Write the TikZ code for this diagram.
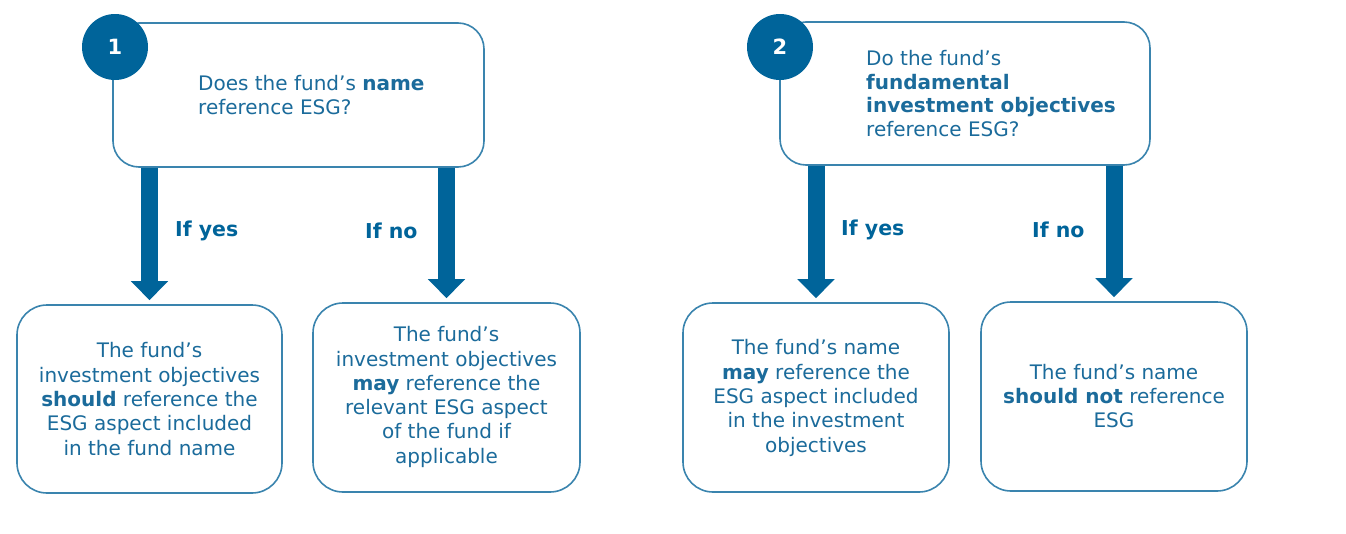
\documentclass[tikz,border=0pt]{standalone}
\usepackage{fontspec}
\setmainfont{DejaVu Sans}
\usetikzlibrary{arrows.meta}
\definecolor{esgdark}{HTML}{00649A}
\definecolor{esgtext}{HTML}{1B6B9B}
\definecolor{esgline}{HTML}{3A84AE}
\tikzset{
  qbox/.style={draw=esgline, line width=1.6pt, rounded corners=26pt, fill=white},
  abox/.style={draw=esgline, line width=1.6pt, rounded corners=30pt, fill=white},
  numcirc/.style={circle, fill=esgdark, minimum size=66pt, inner sep=0pt, text=white, font=\fontsize{21}{24}\selectfont\bfseries},
  qtext/.style={text=esgtext, align=left, font=\fontsize{20}{23.7}\selectfont, inner sep=0pt},
  atext/.style={text=esgtext, align=center, font=\fontsize{20}{24.3}\selectfont, inner sep=0pt},
  lbl/.style={text=esgdark, font=\fontsize{20.5}{22}\selectfont\bfseries, inner sep=0pt, anchor=west},
  bigarrow/.style={draw=esgdark, line width=17pt, -{Triangle[width=36pt,length=19pt]}, shorten >=4pt}
}
\begin{document}
\begin{tikzpicture}[x=1pt,y=-1pt]
\useasboundingbox (0,0) rectangle (1346,533);
% Question 1
\node[qbox, minimum width=371pt, minimum height=144pt] (q1) at (298.5,95) {};
\node[numcirc] (c1) at (115,47) {1};
\node[qtext, anchor=west] (q1t) at (198,95) {Does the fund’s \textbf{name}\\reference ESG?};
% Answers 1
\node[abox, minimum width=265pt, minimum height=188pt] (a1) at (149.5,399) {};
\node[atext] (a1t) at (149.5,399) {The fund’s\\investment objectives\\\textbf{should} reference the\\ESG aspect included\\in the fund name};
\node[abox, minimum width=267pt, minimum height=189pt] (a2) at (446.5,397.5) {};
\node[atext] (a2t) at (446.5,397) {The fund’s\\investment objectives\\\textbf{may} reference the\\relevant ESG aspect\\of the fund if\\applicable};
\draw[bigarrow] (a1.north |- q1.south) -- (a1.north);
\draw[bigarrow] (a2.north |- q1.south) -- (a2.north);
\node[lbl] (l1y) at (175,231) {If yes};
\node[lbl] (l1n) at (365,231) {If no};
% Question 2
\node[qbox, minimum width=370pt, minimum height=143pt] (q2) at (965,93.5) {};
\node[numcirc] (c2) at (780,47) {2};
\node[qtext, anchor=west] (q2t) at (866,93.5) {Do the fund’s\\\textbf{fundamental}\\\textbf{investment objectives}\\reference ESG?};
% Answers 2
\node[abox, minimum width=266pt, minimum height=189pt] (a3) at (816,397.5) {};
\node[atext] (a3t) at (816,398) {The fund’s name\\\textbf{may} reference the\\ESG aspect included\\in the investment\\objectives};
\node[abox, minimum width=266pt, minimum height=189pt] (a4) at (1114,396.5) {};
\node[atext] (a4t) at (1114,396) {The fund’s name\\\textbf{should not} reference\\ESG};
\draw[bigarrow] (a3.north |- q2.south) -- (a3.north);
\draw[bigarrow] (a4.north |- q2.south) -- (a4.north);
\node[lbl] (l2y) at (841,230) {If yes};
\node[lbl] (l2n) at (1032,230) {If no};
\end{tikzpicture}
\end{document}
